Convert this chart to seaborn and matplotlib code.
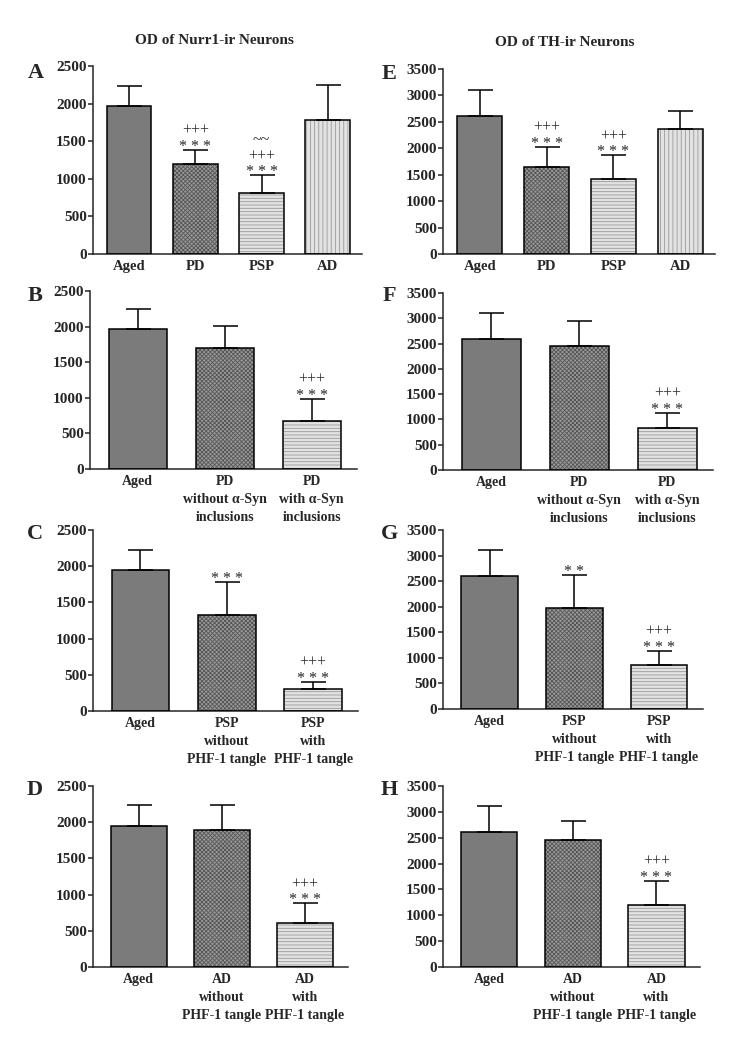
import numpy as np
import pandas as pd
import matplotlib
import matplotlib.pyplot as plt
import seaborn as sns

matplotlib.use("Agg")
sns.set_style("ticks")
plt.rcParams["font.family"] = ["Liberation Serif", "DejaVu Serif"]
plt.rcParams["hatch.linewidth"] = 0.6

W, H = 739, 1050

# data (mean OD, upper SD, significance marks)
a_labels = ["Aged", "PD", "PSP", "AD"]
a_mean = [1966, 1192, 814, 1788]
a_sd = [267, 196, 231, 463]
a_marks = ["", "+++\n* * *", "~~\n+++\n* * *", ""]

e_labels = ["Aged", "PD", "PSP", "AD"]
e_mean = [2603, 1655, 1421, 2363]
e_sd = [505, 367, 449, 347]
e_marks = ["", "+++\n* * *", "+++\n* * *", ""]

b_labels = ["Aged", "PD\nwithout \u03b1-Syn\ninclusions", "PD\nwith \u03b1-Syn\ninclusions"]
b_mean = [1962, 1704, 674]
b_sd = [285, 309, 314]
b_marks = ["", "", "+++\n* * *"]

f_labels = b_labels
f_mean = [2600, 2456, 832]
f_sd = [505, 498, 295]
f_marks = ["", "", "+++\n* * *"]

c_labels = ["Aged", "PSP\nwithout\nPHF-1 tangle", "PSP\nwith\nPHF-1 tangle"]
c_mean = [1945, 1324, 299]
c_sd = [280, 451, 106]
c_marks = ["", "* * *", "+++\n* * *"]

g_labels = c_labels
g_mean = [2608, 1967, 863]
g_sd = [497, 660, 274]
g_marks = ["", "* *", "+++\n* * *"]

d_labels = ["Aged", "AD\nwithout\nPHF-1 tangle", "AD\nwith\nPHF-1 tangle"]
d_mean = [1954, 1898, 614]
d_sd = [286, 342, 264]
d_marks = ["", "", "+++\n* * *"]

h_labels = d_labels
h_mean = [2605, 2449, 1199]
h_sd = [505, 383, 473]
h_marks = ["", "", "+++\n* * *"]

# face colour, hatch colour, hatch per bar position
STYLES = [
    ("#7b7b7b", "#7b7b7b", ""),
    ("#9a9a9a", "#555555", "xxxxxxxx"),
    ("#e2e2e2", "#9a9a9a", "-----"),
    ("#e2e2e2", "#9a9a9a", "||||"),
]

# pixel boxes: x0, x1, y top (ymax), y bottom (0)
LAYOUT = {
    "A": (93, 362, 66, 254, 2500),
    "E": (443, 715, 69, 254, 3500),
    "B": (90, 357, 291, 469, 2500),
    "F": (443, 713, 293, 470, 3500),
    "C": (93, 358, 530, 711, 2500),
    "G": (443, 703, 530, 709, 3500),
    "D": (93, 348, 786, 967, 2500),
    "H": (443, 700, 786, 967, 3500),
}
LETTERS = {"A": (36, 73), "E": (389, 74), "B": (35, 296), "F": (389, 296),
           "C": (35, 534), "G": (389, 534), "D": (35, 790), "H": (389, 790)}

PANELS = {
    "A": (a_labels, a_mean, a_sd, a_marks),
    "E": (e_labels, e_mean, e_sd, e_marks),
    "B": (b_labels, b_mean, b_sd, b_marks),
    "F": (f_labels, f_mean, f_sd, f_marks),
    "C": (c_labels, c_mean, c_sd, c_marks),
    "G": (g_labels, g_mean, g_sd, g_marks),
    "D": (d_labels, d_mean, d_sd, d_marks),
    "H": (h_labels, h_mean, h_sd, h_marks),
}

BW = 0.67


def painel(ax, labels, mean, sd, marks, ymax):
    n = len(labels)
    df = pd.DataFrame({"grupo": labels, "od": mean})
    sns.barplot(data=df, x="grupo", y="od", ax=ax, color="gray",
                width=BW, errorbar=None, zorder=2)
    for p, (fc, hc, hatch) in zip(ax.patches, STYLES):
        p.set_facecolor(fc)
        p.set_edgecolor(hc)
        p.set_hatch(hatch)
        p.set_linewidth(0)
    x = np.arange(n)
    ax.bar(x, mean, width=BW, fill=False, edgecolor="black", linewidth=1.1, zorder=3)
    ax.errorbar(x, mean, yerr=[np.zeros(n), sd], fmt="none", ecolor="black",
                elinewidth=1.1, capsize=9, capthick=1.1, zorder=4)
    # significance marks stacked above the SD cap
    for i, m in enumerate(marks):
        if m:
            ax.annotate(m, xy=(i, mean[i] + sd[i]), xytext=(0, -5),
                        textcoords="offset pixels", ha="center", va="bottom",
                        multialignment="center", linespacing=1.0,
                        fontsize=11.5, zorder=5)

    ax.set_xlim(-0.55, n - 1 + 0.52)
    ax.set_ylim(0, ymax)
    ax.set_yticks(np.arange(0, ymax + 1, 500))
    ax.set_xlabel("")
    ax.set_ylabel("")
    sns.despine(ax=ax)
    ax.spines["left"].set_linewidth(1.1)
    ax.spines["bottom"].set_linewidth(1.1)
    ax.tick_params(axis="y", length=3.5, width=1.1, pad=1, labelsize=11)
    ax.tick_params(axis="x", length=0, pad=4, labelsize=10.5 if n == 4 else 10)
    for t in ax.get_yticklabels() + ax.get_xticklabels():
        t.set_fontweight("bold")
    for t in ax.get_xticklabels():
        t.set_linespacing(1.5)


fig = plt.figure(figsize=(W / 100, H / 100), dpi=100)

for k, (x0, x1, yt, yb, ymax) in LAYOUT.items():
    ax = fig.add_axes([x0 / W, 1 - yb / H, (x1 - x0) / W, (yb - yt) / H])
    painel(ax, *PANELS[k], ymax)
    lx, ly = LETTERS[k]
    fig.text(lx / W, 1 - ly / H, k, fontsize=16, fontweight="bold",
             ha="center", va="center")

fig.text(214 / W, 1 - 40 / H, "OD of Nurr1-ir Neurons", fontsize=11,
         fontweight="bold", ha="center", va="center")
fig.text(565 / W, 1 - 43 / H, "OD of TH-ir Neurons", fontsize=11,
         fontweight="bold", ha="center", va="center")

fig.savefig("out.png", dpi=100)
